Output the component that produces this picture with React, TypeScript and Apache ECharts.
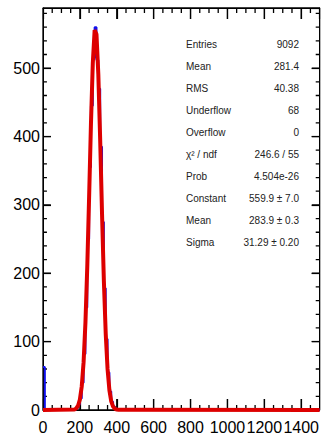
import React, { useEffect, useRef } from "react";
import * as echarts from "echarts";

// Histogram: bin edges and counts for [edge_i, edge_{i+1})
const histEdges = [0, 10, 170, 180, 190, 200, 210, 220, 230, 240, 250, 260, 270, 280, 290, 300, 310, 320, 330, 340, 350, 360, 370, 380, 390, 400, 410, 1500];
const histCounts = [63, 0, 1, 3, 8, 17, 40, 82, 150, 250, 355, 445, 515, 560, 512, 470, 385, 275, 178, 104, 55, 27, 12, 5, 2, 1, 0];

// Gaussian fit curve as sampled points
const fitX = [0, 170, 180, 190, 200, 210, 220, 230, 240, 250, 260, 270, 280, 290, 300, 310, 320, 330, 340, 350, 360, 370, 380, 390, 400, 410, 1500];
const fitY = [0, 0.6, 2.3, 6.2, 15.4, 34.4, 69.6, 127.0, 209.3, 311.3, 418.3, 507.3, 555.6, 549.4, 490.5, 395.4, 287.8, 189.1, 112.2, 60.1, 29.1, 12.7, 5.0, 1.8, 0.6, 0.2, 0];

const xRange = [0, 1500];
const yRange = [0, 588];
const xMajor = 200;
const xMinor = 50;
const yMajor = 100;
const yMinor = 20;

const statLabels = ["Entries", "Mean", "RMS", "Underflow", "Overflow", "χ² / ndf", "Prob", "Constant", "Mean", "Sigma"];
const statValues = ["9092", "281.4", "40.38", "68", "0", "246.6 / 55", "4.504e-26", "559.9 ± 7.0", "283.9 ± 0.3", "31.29 ± 0.20"];

const FONT = "Liberation Sans, Arial, Helvetica, sans-serif";
const GRID = { left: 43, top: 8, width: 281, height: 402 };

export default function App() {
  const ref = useRef<HTMLDivElement>(null);
  useEffect(() => {
    if (!ref.current) return;
    const chart = echarts.init(ref.current, undefined, { renderer: "svg" });

    const histData: [number, number][] = [];
    for (let i = 0; i < histCounts.length; i++) histData.push([histEdges[i], histCounts[i]]);
    histData.push([histEdges[histEdges.length - 1], 0]);
    const fitData = fitX.map((x, i) => [x, fitY[i]]);

    const mkAxis = (range: number[], interval: number, position: string, labels: boolean, margin: number, tickLen: number) => ({
      type: "value",
      min: range[0],
      max: range[1],
      interval,
      position,
      axisLine: { show: true, onZero: false, lineStyle: { color: "#000", width: 1 } },
      axisTick: { show: true, inside: true, length: tickLen, lineStyle: { color: "#000", width: 1.2 } },
      axisLabel: labels
        ? {
            show: true,
            fontSize: 16,
            color: "#000",
            margin,
            fontFamily: FONT,
            showMaxLabel: false,
            formatter: (v: number) => String(v),
          }
        : { show: false },
      splitLine: { show: false },
    });

    // Tick marks as one continuous comb running around the frame (lengths converted from pixels)
    const xUnitsPerPx = (xRange[1] - xRange[0]) / GRID.width;
    const yUnitsPerPx = (yRange[1] - yRange[0]) / GRID.height;
    const comb: [number, number][] = [];
    for (let v = xRange[0]; v <= xRange[1]; v += xMinor) {
      const len = (v % xMajor === 0 ? 11 : 5) * yUnitsPerPx;
      comb.push([v, yRange[0]], [v, yRange[0] + len], [v, yRange[0]]);
    }
    comb.push([xRange[1], yRange[0]]);
    for (let v = yRange[0]; v <= yRange[1]; v += yMinor) {
      const len = (v % yMajor === 0 ? 8 : 4) * xUnitsPerPx;
      comb.push([xRange[1], v], [xRange[1] - len, v], [xRange[1], v]);
    }
    comb.push([xRange[1], yRange[1]]);
    for (let v = xRange[1]; v >= xRange[0]; v -= xMinor) {
      const len = (v % xMajor === 0 ? 11 : 5) * yUnitsPerPx;
      comb.push([v, yRange[1]], [v, yRange[1] - len], [v, yRange[1]]);
    }
    comb.push([xRange[0], yRange[1]]);
    const yTop = Math.floor(yRange[1] / yMinor) * yMinor;
    for (let v = yTop; v >= yRange[0]; v -= yMinor) {
      const len = (v % yMajor === 0 ? 8 : 4) * xUnitsPerPx;
      comb.push([xRange[0], v], [xRange[0] + len, v], [xRange[0], v]);
    }

    const graphics: any[] = [];
    statLabels.forEach((lab, i) => {
      const y = 44 + i * 22.1;
      graphics.push({
        type: "text",
        x: 186,
        y,
        style: { text: lab, font: `10px ${FONT}`, fill: "#222", textAlign: "left", textVerticalAlign: "middle" },
      });
      graphics.push({
        type: "text",
        x: 299,
        y,
        style: { text: statValues[i], font: `10px ${FONT}`, fill: "#222", textAlign: "right", textVerticalAlign: "middle" },
      });
    });

    chart.setOption({
      animation: false,
      backgroundColor: "#fff",
      grid: { ...GRID, containLabel: false },
      xAxis: [mkAxis(xRange, xMajor, "bottom", true, 9, 11), mkAxis(xRange, xMajor, "top", false, 0, 11)],
      yAxis: [mkAxis(yRange, yMajor, "left", true, 3, 8), mkAxis(yRange, yMajor, "right", false, 0, 8)],
      series: [
        {
          type: "line",
          name: "ticks",
          xAxisIndex: 0,
          yAxisIndex: 0,
          data: comb,
          symbol: "none",
          showSymbol: false,
          clip: false,
          silent: true,
          lineStyle: { color: "#000", width: 1.3 },
          z: 2,
        },
        {
          type: "line",
          name: "hist",
          xAxisIndex: 0,
          yAxisIndex: 0,
          data: histData,
          step: "end",
          symbol: "none",
          clip: false,
          lineStyle: { color: "#1010ee", width: 2 },
          z: 3,
        },
        {
          type: "line",
          name: "fit",
          xAxisIndex: 0,
          yAxisIndex: 0,
          data: fitData,
          symbol: "none",
          clip: false,
          lineStyle: { color: "#dd0000", width: 4 },
          z: 4,
        },
      ],
      graphic: { elements: graphics },
    });
    return () => chart.dispose();
  }, []);
  return (
    <div
      ref={ref}
      style={{ position: "absolute", left: 0, top: 0, width: 322, height: 439, background: "#fff" }}
    />
  );
}
